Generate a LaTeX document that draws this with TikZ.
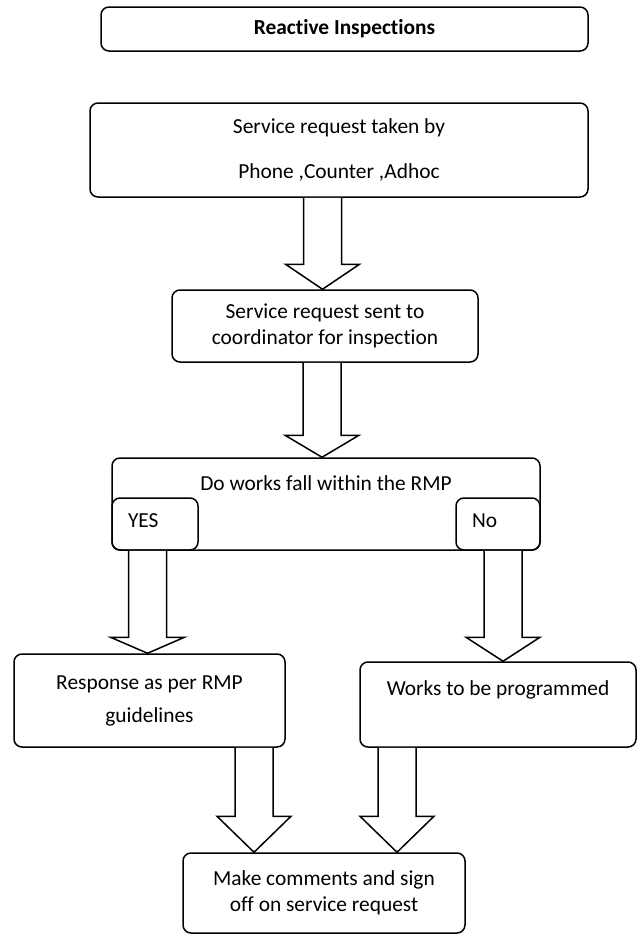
\documentclass[tikz,border=0pt]{standalone}
\usepackage{fontspec}
\setmainfont[Ligatures={NoCommon}]{Carlito}
\newcommand\blockarr[4]{% #1 x centre, #2 start node, #3 end node, #4 head length
  \path (#1,0 |- #2.south) coordinate (as) (#1,0 |- #3.north) coordinate (ae);
  \draw[blockarrow] ([xshift=-19pt]as) -- ([xshift=-19pt,yshift=#4]ae) -- ([xshift=-37pt,yshift=#4]ae) -- (ae)
    -- ([xshift=37pt,yshift=#4]ae) -- ([xshift=19pt,yshift=#4]ae) -- ([xshift=19pt]as);
}
\begin{document}
\begin{tikzpicture}[x=1pt,y=-1pt,
  font=\fontsize{21.4}{26}\selectfont,
  box/.style={draw, line width=1.5pt, rounded corners=8pt, inner sep=0pt, align=center},
  blockarrow/.style={draw, line width=1.5pt, fill=white, line join=miter}]
\useasboundingbox (0,0) rectangle (637,935);

\node[box, minimum width=487pt, minimum height=44pt] (title) at (344.5,29) {\bfseries Reactive Inspections};
\node[box, minimum width=498pt, minimum height=94pt] (b1) at (339,150) {Service request taken by\\[19pt]Phone ,Counter ,Adhoc};
\node[box, minimum width=306pt, minimum height=72pt] (b2) at (325,326) {Service request sent to\\coordinator for inspection};
\node[box, minimum width=428pt, minimum height=92pt] (dec) at (326,504) {};
\node (dect) at (326,483) {Do works fall within the RMP};
\node[box, minimum width=86pt, minimum height=52pt, text width=54pt, inner xsep=16pt, align=left, text depth=6pt] (yes) at (155,524) {YES};
\node[box, minimum width=84pt, minimum height=52pt, text width=52pt, inner xsep=16pt, align=left, text depth=6pt] (no) at (498,524) {No};
\node[box, minimum width=271pt, minimum height=93pt] (resp) at (149.5,700.5) {Response as per RMP\\[7pt]guidelines};
\node[box, minimum width=276pt, minimum height=85pt] (works) at (498,704.5) {Works to be programmed\\\strut};
\node[box, minimum width=282pt, minimum height=80pt] (final) at (324,893) {Make comments and sign\\off on service request};

\blockarr{322.5}{b1}{b2}{25pt}
\blockarr{322}{b2}{dec}{22pt}
\blockarr{147.5}{dec}{resp}{16pt}
\blockarr{503}{dec}{works}{24pt}
\blockarr{254}{resp}{final}{36pt}
\blockarr{397}{works}{final}{36pt}
\end{tikzpicture}
\end{document}
